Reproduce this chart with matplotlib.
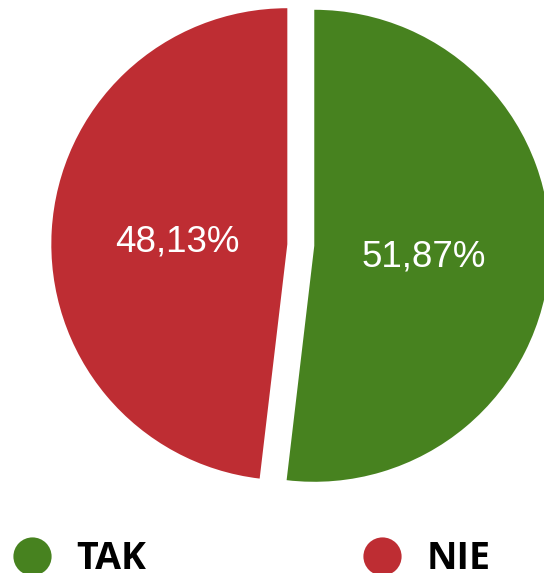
import matplotlib
matplotlib.use("Agg")
import matplotlib.pyplot as plt
from matplotlib.lines import Line2D
from matplotlib.transforms import offset_copy

# answer shares (percent)
labels = ["TAK", "NIE"]
shares = [51.87, 48.13]
colors = ["#47821F", "#BE2D33"]

W, H = 544, 573
fig = plt.figure(figsize=(W / 100, H / 100), dpi=100)
ax = fig.add_axes([0, 0, 1, 1])


def pct_label(p):
    return f"{p:.2f}%".replace(".", ",")


# explode is in data units here (pixels), not a fraction of radius
wedges, _, autotexts = ax.pie(
    shares,
    colors=colors,
    startangle=90,
    counterclock=False,
    explode=[13.5, 13.5],
    center=(300.8, 328),
    radius=236,
    autopct=pct_label,
    pctdistance=0.466,
    textprops=dict(color="white", fontsize=26.5, family="Liberation Sans"),
    wedgeprops=dict(linewidth=0),
)
# nudge labels a little lower, like the original renderer
for t in autotexts:
    t.set_transform(offset_copy(ax.transData, fig=fig, x=0, y=-4.5, units="dots"))

ax.set_xlim(0, W)
ax.set_ylim(0, H)
ax.set_aspect("equal")
ax.axis("off")

handles = [
    Line2D([], [], marker="o", linestyle="none", markersize=27.5,
           markerfacecolor=c, markeredgewidth=0)
    for c in colors
]
fig.legend(
    handles, labels,
    loc="center left",
    bbox_to_anchor=(12.75 / W, 14 / H),
    ncol=2,
    frameon=False,
    borderpad=0,
    borderaxespad=0,
    handlelength=1.0,
    handletextpad=0.687,
    columnspacing=5.79,
    prop=dict(family="Open Sans", weight="bold", size=27),
)

fig.savefig("out.png", dpi=100)
